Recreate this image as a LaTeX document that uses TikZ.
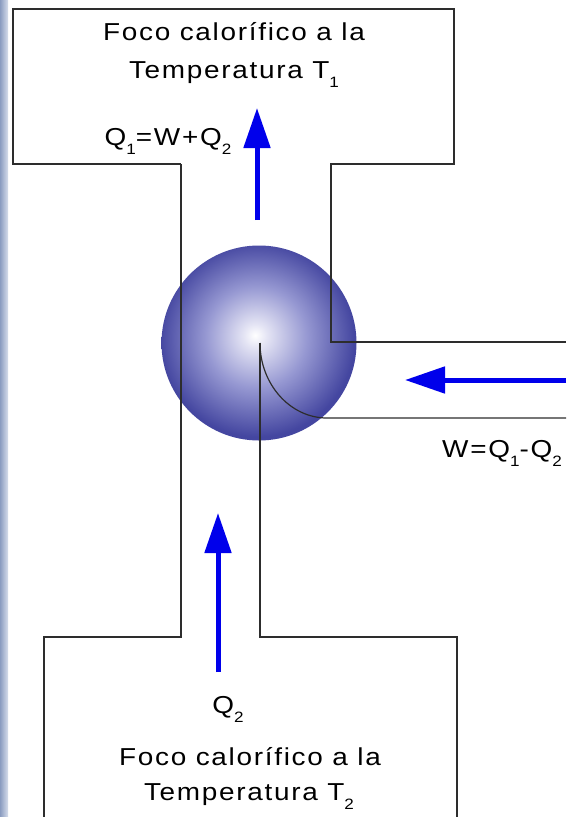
\documentclass[tikz,border=0pt]{standalone}
\usepackage{fontspec}
\setmainfont{Liberation Sans}[FakeStretch=1.14,LetterSpace=7]
\usetikzlibrary{arrows.meta}
\definecolor{frame}{RGB}{45,45,45}
\definecolor{flow}{RGB}{0,0,235}
\definecolor{sphmid}{RGB}{150,152,210}
\definecolor{sphedge}{RGB}{68,70,160}
\definecolor{sphlight}{RGB}{228,228,244}
\definecolor{stripdark}{RGB}{138,156,192}
\definecolor{striplight}{RGB}{215,222,236}
\pgfdeclareradialshading{spheregrad}{\pgfpoint{-1bp}{2bp}}{color(0bp)=(white); color(3bp)=(sphlight); color(13bp)=(sphmid); color(25bp)=(sphedge); color(50bp)=(sphedge)}
\newcommand{\mysub}[1]{\raisebox{-9.5pt}{\fontsize{15}{15}\selectfont #1}}
\tikzset{
  wall/.style={draw=frame, line width=1.2pt, line join=miter},
  flowarrow/.style={draw=flow, line width=5pt, -{Triangle[length=40pt,width=26pt]}},
  label/.style={font=\fontsize{24.5}{29}\selectfont, inner sep=0pt, anchor=base, align=center}
}
\begin{document}
\begin{tikzpicture}[x=1pt,y=-1pt]
\useasboundingbox (0,0) rectangle (566,817);
\fill[white] (0,0) rectangle (566,817);
\shade[left color=stripdark, right color=striplight] (0,0) rectangle (8,817);

% sphere (engine)
\node[circle, minimum size=195pt, inner sep=0pt, shading=spheregrad] (engine) at (259,343) {};

% coordinates
\coordinate (c) at (260,343);
\coordinate (tl) at (13,9);
\coordinate (tr) at (454,9);
\coordinate (tbr) at (454,164);
\coordinate (tbl) at (13,164);
\coordinate (nl) at (181,164);
\coordinate (nr) at (331,164);
\coordinate (wr) at (331,342);
\coordinate (we) at (566,342);
\coordinate (nlb) at (181,637);
\coordinate (bl) at (44,637);
\coordinate (blb) at (44,830);
\coordinate (crb) at (260,637);
\coordinate (br) at (457,637);
\coordinate (brb) at (457,830);
\coordinate (arcend) at (327,418);
\coordinate (le) at (566,418);

% walls
\draw[wall] (nl) -- (tbl) -- (tl) -- (tr) -- (tbr) -- (nr) -- (wr) -- (we);
\draw[wall] (nl) -- (nlb) -- (bl) -- (blb);
\draw[wall] (c) -- (crb) -- (br) -- (brb);
\draw[wall] (c) .. controls (260,384) and (290,418) .. (arcend) -- (le);

% arrows
\coordinate (a1s) at (257,220);
\coordinate (a1e) at (257,108);
\coordinate (a2s) at (566,380);
\coordinate (a2e) at (405,380);
\coordinate (a3s) at (218,672);
\coordinate (a3e) at (218,513);
\draw[flowarrow] (a1s) -- (a1e);
\draw[flowarrow] (a2s) -- (a2e);
\draw[flowarrow] (a3s) -- (a3e);

% labels
\node[label] (hot1) at (234,40) {Foco calorífico a la};
\node[label] (hot2) at (234,78) {Temperatura T\mysub{1}};
\node[label] (q1) at (168,145) {Q\mysub{1}=W+Q\mysub{2}};
\node[label] (w) at (502,457) {W=Q\mysub{1}-Q\mysub{2}};
\node[label] (q2) at (228,713) {Q\mysub{2}};
\node[label] (cold1) at (250,765) {Foco calorífico a la};
\node[label] (cold2) at (249,800) {Temperatura T\mysub{2}};
\end{tikzpicture}
\end{document}
